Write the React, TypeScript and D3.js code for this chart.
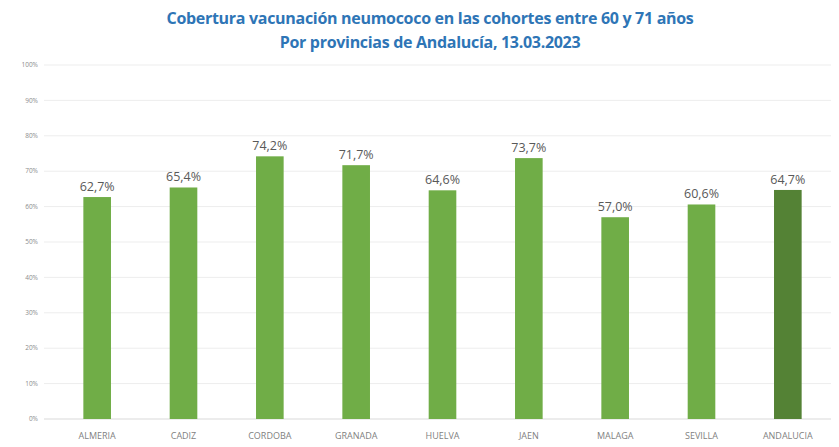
import React, { useEffect, useRef } from "react";
import * as d3 from "d3";

const provinces = ["ALMERIA", "CADIZ", "CORDOBA", "GRANADA", "HUELVA", "JAEN", "MALAGA", "SEVILLA", "ANDALUCIA"];
const coverage = [62.7, 65.4, 74.2, 71.7, 64.6, 73.7, 57.0, 60.6, 64.7];
const yTicks = [0, 10, 20, 30, 40, 50, 60, 70, 80, 90, 100];
const titleLines = [
  "Cobertura vacunación neumococo en las cohortes entre 60 y 71 años",
  "Por provincias de Andalucía, 13.03.2023",
];

const W = 839;
const H = 447;

export default function App() {
  const ref = useRef<SVGSVGElement | null>(null);

  useEffect(() => {
    if (!ref.current) return;
    const svg = d3.select(ref.current);
    svg.selectAll("*").remove();

    const margin = { top: 65, right: 8, bottom: 28, left: 54 };
    const plotW = W - margin.left - margin.right;
    const plotH = H - margin.top - margin.bottom;

    svg.append("rect").attr("width", W).attr("height", H).attr("fill", "#ffffff");

    // title
    svg
      .append("g")
      .selectAll("text")
      .data(titleLines)
      .enter()
      .append("text")
      .attr("x", 430)
      .attr("y", (_d, i) => 24 + i * 24)
      .attr("text-anchor", "middle")
      .attr("font-family", "'Open Sans', sans-serif")
      .attr("font-weight", "bold")
      .attr("font-size", 16)
      .attr("letter-spacing", -0.3)
      .attr("fill", "#2E75B6")
      .text((d) => d);

    const g = svg.append("g").attr("transform", `translate(${margin.left},${margin.top})`);

    const x = d3.scaleBand().domain(provinces).range([0, plotW]).paddingInner(0.68).paddingOuter(0.34);
    const y = d3.scaleLinear().domain([0, 100]).range([plotH, 0]);

    // grid
    g.append("g")
      .selectAll("line")
      .data(yTicks)
      .enter()
      .append("line")
      .attr("x1", -10)
      .attr("x2", plotW)
      .attr("y1", (d) => y(d))
      .attr("y2", (d) => y(d))
      .attr("stroke", (d) => (d === 0 ? "#d9d9d9" : "#ededed"))
      .attr("stroke-width", 1);

    // y axis labels
    g.append("g")
      .selectAll("text")
      .data(yTicks)
      .enter()
      .append("text")
      .attr("x", -16)
      .attr("y", (d) => y(d))
      .attr("dy", "0.35em")
      .attr("text-anchor", "end")
      .attr("font-family", "'Open Sans', sans-serif")
      .attr("font-size", 6.5)
      .attr("fill", "#8c8c8c")
      .text((d) => `${d}%`);

    // bars
    g.append("g")
      .selectAll("rect")
      .data(provinces)
      .enter()
      .append("rect")
      .attr("x", (d) => x(d)!)
      .attr("width", x.bandwidth())
      .attr("y", (_d, i) => y(coverage[i]))
      .attr("height", (_d, i) => plotH - y(coverage[i]))
      .attr("fill", (d) => (d === "ANDALUCIA" ? "#548235" : "#70AD47"));

    // value labels
    g.append("g")
      .selectAll("text")
      .data(provinces)
      .enter()
      .append("text")
      .attr("x", (d) => x(d)! + x.bandwidth() / 2)
      .attr("y", (_d, i) => y(coverage[i]) - 6)
      .attr("text-anchor", "middle")
      .attr("font-family", "'Open Sans', sans-serif")
      .attr("font-size", 12.5)
      .attr("fill", "#595959")
      .text((_d, i) => `${coverage[i].toFixed(1).replace(".", ",")}%`);

    // category labels
    g.append("g")
      .selectAll("text")
      .data(provinces)
      .enter()
      .append("text")
      .attr("x", (d) => x(d)! + x.bandwidth() / 2)
      .attr("y", plotH + 20)
      .attr("text-anchor", "middle")
      .attr("font-family", "'Open Sans', sans-serif")
      .attr("font-size", 9)
      .attr("fill", "#7f7f7f")
      .text((d) => d);
  }, []);

  return (
    <svg
      ref={ref}
      width={W}
      height={H}
      style={{ position: "absolute", left: 0, top: 0, display: "block" }}
    />
  );
}
